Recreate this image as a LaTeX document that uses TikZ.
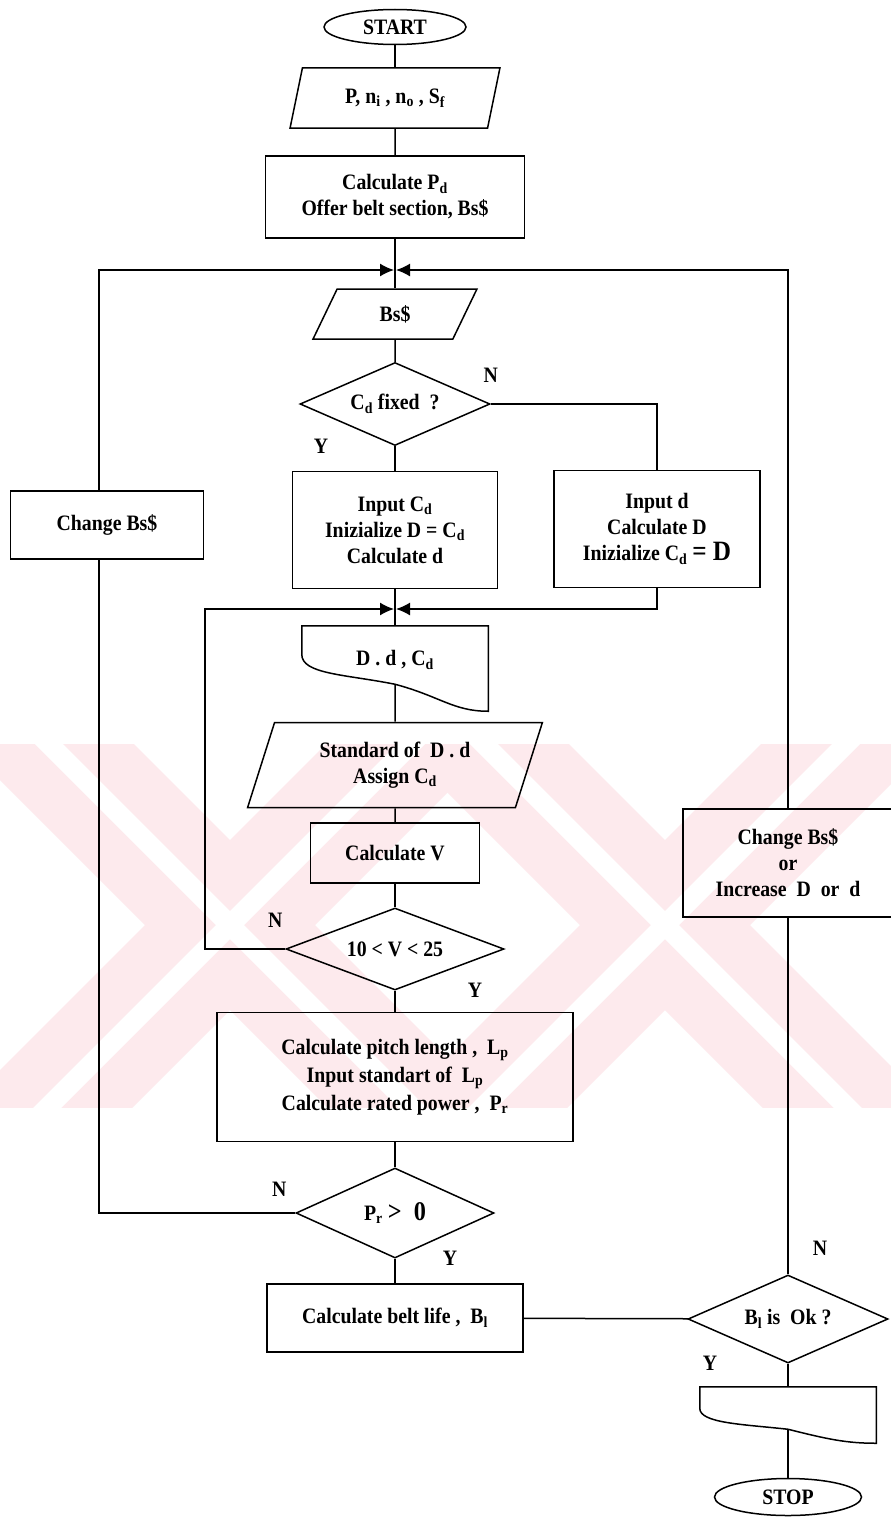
\documentclass[tikz,border=0pt]{standalone}
\usepackage{fontspec}
\setmainfont{Liberation Serif}[FakeStretch=0.9]
\usetikzlibrary{arrows.meta,positioning,shapes.geometric,calc}
\definecolor{wmpink}{RGB}{253,234,237}

\begin{document}
\begin{tikzpicture}[x=1pt, y=-1pt, line width=1.5pt, >={Latex[length=14pt,width=13pt]},
font=\fontsize{22}{26}\selectfont\bfseries,
term/.style={draw, ellipse, inner sep=0pt, minimum width=142pt, minimum height=35pt},
io/.style={draw, trapezium, trapezium left angle=70, trapezium right angle=110, trapezium stretches=true, align=center, inner sep=0pt},
proc/.style={draw, align=center, inner sep=0pt},
dec/.style={draw, diamond, aspect=2.5, inner sep=0pt, align=center},
doc/.style={inner sep=0pt, align=center},
yn/.style={inner sep=0pt}]

\useasboundingbox (0,0) rectangle (891,1520);
\fill[white] (0,0) rectangle (891,1520);

% faint stamp behind the chart
\begin{scope}
\clip (0,744) rectangle (891,1107);
\foreach \cx in {230,665} {
  \fill[wmpink] (\cx-285,725) -- (\cx-115,725) -- (\cx+285,1125) -- (\cx+115,1125) -- cycle;
  \fill[wmpink] (\cx+115,725) -- (\cx+285,725) -- (\cx-115,1125) -- (\cx-285,1125) -- cycle;
}
\foreach \cx in {230,665} {
  \fill[white] (\cx-214,725) -- (\cx-186,725) -- (\cx+214,1125) -- (\cx+186,1125) -- cycle;
  \fill[white] (\cx+186,725) -- (\cx+214,725) -- (\cx-186,1125) -- (\cx-214,1125) -- cycle;
}
\end{scope}

% main column
\node[term] (start) at (395,27) {START};
\node[io, minimum width=210pt, minimum height=60pt] (inp) at (395,98) {P, n\textsubscript{i} , n\textsubscript{o} , S\textsubscript{f}};
\node[proc, minimum width=259pt, minimum height=82pt] (pd) at (395,197) {Calculate P\textsubscript{d}\\Offer belt section, Bs\$};
\coordinate (j1) at (395,270);
\node[io, minimum width=164pt, minimum height=50pt] (bs) at (395,314) {Bs\$};
\node[dec, minimum width=190pt, minimum height=83pt] (cdq) at (395,404) {C\textsubscript{d} fixed~~?};
\node[proc, minimum width=205pt, minimum height=117pt] (inc) at (395,530) {Input C\textsubscript{d}\\Inizialize D = C\textsubscript{d}\\Calculate d};
\node[proc, minimum width=206pt, minimum height=117pt] (ind) at (657,529) {Input d\\Calculate D\\Inizialize C\textsubscript{d} {\fontsize{28}{26}\selectfont = D}};
\coordinate (j2) at (395,609);
\node[doc, minimum width=185pt, minimum height=67pt] (ddoc) at (395,660) {D . d , C\textsubscript{d}};
\node[io, minimum width=295pt, minimum height=85pt] (std) at (395,765) {Standard of~ D . d\\Assign C\textsubscript{d}};
\node[proc, minimum width=169pt, minimum height=60pt] (cv) at (395,853) {Calculate V};
\node[dec, minimum width=218pt, minimum height=82pt] (vq) at (395,949) {10 < V < 25};
\node[proc, minimum width=356pt, minimum height=129pt] (pl) at (395,1077) {Calculate pitch length ,~ L\textsubscript{p}\\[2pt]Input standart of~ L\textsubscript{p}\\[2pt]Calculate rated power ,~ P\textsubscript{r}};
\node[dec, minimum width=198pt, minimum height=90pt] (prq) at (395,1213) {P\textsubscript{r} {\fontsize{27}{26}\selectfont >~~0}};
\node[proc, minimum width=256pt, minimum height=68pt] (bl) at (395,1318) {Calculate belt life ,~ B\textsubscript{l}};
\node[dec, minimum width=200pt, minimum height=88pt] (blq) at (788,1319) {B\textsubscript{l} is~ Ok ?};
\node[doc, minimum width=175pt, minimum height=55pt] (odoc) at (788,1415) {};
\node[term, minimum width=147pt, minimum height=37pt] (stop) at (788,1497) {STOP};

% loop boxes
\node[proc, minimum width=193pt, minimum height=68pt] (chg) at (107,525) {Change Bs\$};
\node[proc, minimum width=210pt, minimum height=108pt] (chg2) at (788,863) {Change Bs\$\\or\\Increase~ D~ or~ d};
\coordinate (lft) at (99,270);
\coordinate (lft2) at (205,609);

% document outlines
\draw (ddoc.north west) -- (ddoc.north east) -- ($(ddoc.south east)+(0,17)$)
  .. controls +(-35,0) and +(45,12) .. ($(ddoc.south)+(0,-10)$) coordinate (dw1)
  .. controls +(-50,-10) and +(0,20) .. ($(ddoc.south west)+(0,-40)$) -- cycle;
\draw (odoc.north west) -- (odoc.north east) -- (odoc.south east)
  .. controls +(-30,0) and +(40,10) .. ($(odoc.south)+(0,-14)$) coordinate (dw2)
  .. controls +(-45,-5) and +(0,15) .. ($(odoc.south west)+(0,-35)$) -- cycle;

% Y / N labels
\node[yn, above=21pt of cdq.east] (n1) {N};
\node[yn, left=66pt of cdq.south] (y1) {Y};
\node[yn, above left=21pt and 2pt of vq.west] (n2) {N};
\node[yn, right=72pt of vq.south] (y2) {Y};
\node[yn, above left=16pt and 8pt of prq.west] (n3) {N};
\node[yn, right=47pt of prq.south] (y3) {Y};
\node[yn, above right=18pt and 24pt of blq.north] (n4) {N};
\node[yn, left=70pt of blq.south] (y4) {Y};

% connectors
\draw (start) -- (inp);
\draw (inp) -- (pd);
\draw (pd) -- (bs);
\draw (bs) -- (cdq);
\draw (cdq) -- (inc);
\draw (cdq.east) -| (ind.north);
\draw (inc) -- (ddoc);
\draw[->, shorten >=1pt] (ind.south) |- (j2);
\draw (dw1) -- (std);
\draw (std) -- (cv);
\draw (cv) -- (vq);
\draw (vq) -- (pl);
\draw (pl) -- (prq);
\draw (prq) -- (bl);
\draw (bl) -- (blq);
\draw (blq) -- (odoc);
\draw (dw2) -- (stop);
\draw (blq) -- (chg2);
\draw[->, shorten >=1pt] (chg2.north) |- (j1);
\draw (prq.west) -| (lft |- chg.south);
\draw[->, shorten >=1pt] (lft |- chg.north) |- (j1);
\draw[->, shorten >=1pt] (vq.west) -| (lft2) -- (j2);
\end{tikzpicture}
\end{document}
